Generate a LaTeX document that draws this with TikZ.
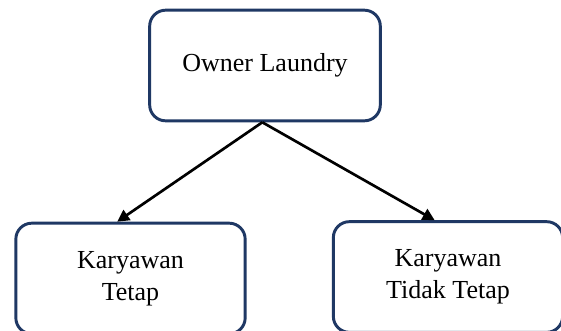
\documentclass[tikz,border=0pt]{standalone}
\usepackage{fontspec}
\setmainfont{Liberation Serif}
\usepackage{tikz}
\usetikzlibrary{positioning, arrows.meta}
\definecolor{boxblue}{RGB}{31,56,100}
\tikzset{
    orgbox/.style={draw=boxblue, line width=2.2pt, rounded corners=12pt, fill=white,
        align=center, minimum width=173pt, minimum height=83pt,
        font=\fontsize{19.5}{24}\selectfont},
    orgarrow/.style={-{Triangle[length=9pt, width=9pt]}, line width=2pt}
}

\begin{document}
\begin{tikzpicture}[x=0.75pt, y=-0.75pt, thick]
    % ---------------- FRAME ---------------- %
    \clip (0,0) rectangle (561,330);
    \useasboundingbox (0,0) rectangle (561,330);

    % ---------------- BOXES ---------------- %
    \node[orgbox] (owner) at (265,65.5) {Owner Laundry};
    \node[orgbox, minimum width=172pt] (tetap) at (130.5,278.5) {Karyawan\\Tetap};
    \node[orgbox, minimum width=172pt] (tidak) at (448,277) {Karyawan\\Tidak Tetap};

    % ---------------- ARROWS ---------------- %
    \draw[orgarrow] ([xshift=-2pt]owner.south) -- ([xshift=-10pt]tetap.north);
    \draw[orgarrow] ([xshift=-2pt]owner.south) -- ([xshift=-10pt]tidak.north);
\end{tikzpicture}
\end{document}
